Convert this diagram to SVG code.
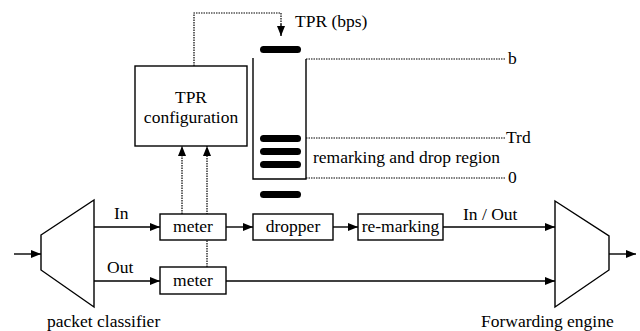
<svg xmlns="http://www.w3.org/2000/svg" width="640" height="331" viewBox="0 0 640 331" font-family="'Liberation Serif', 'Times New Roman', serif">
  <defs>
    <marker id="arrow" markerWidth="10" markerHeight="8" refX="10" refY="4" orient="auto" markerUnits="userSpaceOnUse">
      <path d="M0,0 L10,4 L0,8 Z" fill="#000"/>
    </marker>
    <style>
      text { font-family: "Liberation Serif", "Times New Roman", serif; font-size: 17.5px; fill: #000; }
      .box { fill: #fff; stroke: #000; stroke-width: 1.4; }
      .line { fill: none; stroke: #000; stroke-width: 1.4; }
      .dot { fill: none; stroke: #000; stroke-width: 1.2; stroke-dasharray: 1.5 1; }
      .bar { fill: #000; }
    </style>
  </defs>
  <rect width="640" height="331" fill="#fff"/>

  <!-- connectors -->
  <g id="connectors">
    <!-- input to classifier -->
    <line class="line" x1="14" y1="254" x2="41" y2="254" marker-end="url(#arrow)"/>
    <!-- In path -->
    <line class="line" x1="94" y1="227" x2="160" y2="227" marker-end="url(#arrow)"/>
    <line class="line" x1="226" y1="227" x2="253" y2="227" marker-end="url(#arrow)"/>
    <line class="line" x1="333" y1="227" x2="358" y2="227" marker-end="url(#arrow)"/>
    <line class="line" x1="443" y1="227" x2="555" y2="227" marker-end="url(#arrow)"/>
    <!-- Out path -->
    <line class="line" x1="94" y1="281" x2="160" y2="281" marker-end="url(#arrow)"/>
    <line class="line" x1="226" y1="281" x2="555" y2="281" marker-end="url(#arrow)"/>
    <!-- output of forwarding engine -->
    <line class="line" x1="609" y1="254" x2="636" y2="254" marker-end="url(#arrow)"/>
    <!-- meter feedback to TPR configuration -->
    <line class="dot" x1="182" y1="214" x2="182" y2="146" marker-end="url(#arrow)"/>
    <line class="dot" x1="207" y1="267" x2="207" y2="146" marker-end="url(#arrow)"/>
    <!-- TPR configuration to token bucket -->
    <polyline class="dot" points="194,66 194,13 281,13 281,24"/>
    <line class="line" x1="281" y1="24" x2="281" y2="36" marker-end="url(#arrow)"/>
  </g>

  <!-- packet classifier -->
  <g id="packet-classifier">
    <polygon class="box" points="41,235 94,200 94,307 41,270"/>
    <text x="47" y="327">packet classifier</text>
  </g>

  <!-- forwarding engine -->
  <g id="forwarding-engine">
    <polygon class="box" points="555,201 609,236 609,270 555,307"/>
    <text x="481" y="327">Forwarding engine</text>
  </g>

  <!-- labels on paths -->
  <g id="labels">
    <text x="114" y="219">In</text>
    <text x="107" y="273">Out</text>
    <text x="463" y="220">In / Out</text>
  </g>

  <!-- meters -->
  <g id="meter-in">
    <rect class="box" x="160" y="214" width="66" height="26"/>
    <text x="193" y="232" text-anchor="middle">meter</text>
  </g>
  <g id="meter-out">
    <rect class="box" x="160" y="267" width="66" height="27"/>
    <text x="193" y="286" text-anchor="middle">meter</text>
  </g>

  <!-- dropper -->
  <g id="dropper">
    <rect class="box" x="253" y="214" width="80" height="26"/>
    <text x="293" y="232" text-anchor="middle">dropper</text>
  </g>

  <!-- re-marking -->
  <g id="re-marking">
    <rect class="box" x="358" y="214" width="85" height="26"/>
    <text x="400.5" y="232" text-anchor="middle">re-marking</text>
  </g>

  <!-- TPR configuration -->
  <g id="tpr-configuration">
    <rect class="box" x="135" y="66" width="112" height="80"/>
    <text x="191" y="103" text-anchor="middle">TPR</text>
    <text x="191" y="123" text-anchor="middle">configuration</text>
  </g>

  <!-- token bucket -->
  <g id="token-bucket">
    <text x="295" y="27">TPR (bps)</text>
    <rect class="bar" x="260" y="46" width="41" height="7" rx="3.5"/>
    <polyline class="line" points="253,58 253,179 306,179 306,59"/>
    <rect class="bar" x="260" y="135" width="41" height="7" rx="3.5"/>
    <rect class="bar" x="260" y="148" width="41" height="7" rx="3.5"/>
    <rect class="bar" x="260" y="161" width="41" height="7" rx="3.5"/>
    <rect class="bar" x="260" y="191" width="41" height="7" rx="3.5"/>
    <line class="dot" x1="306" y1="59" x2="505" y2="59"/>
    <line class="dot" x1="306" y1="138" x2="506" y2="138"/>
    <line class="dot" x1="306" y1="178" x2="505" y2="178"/>
    <text x="508" y="64">b</text>
    <text x="506" y="143">Trd</text>
    <text x="508" y="183">0</text>
    <text x="313" y="163">remarking and drop region</text>
  </g>
</svg>
